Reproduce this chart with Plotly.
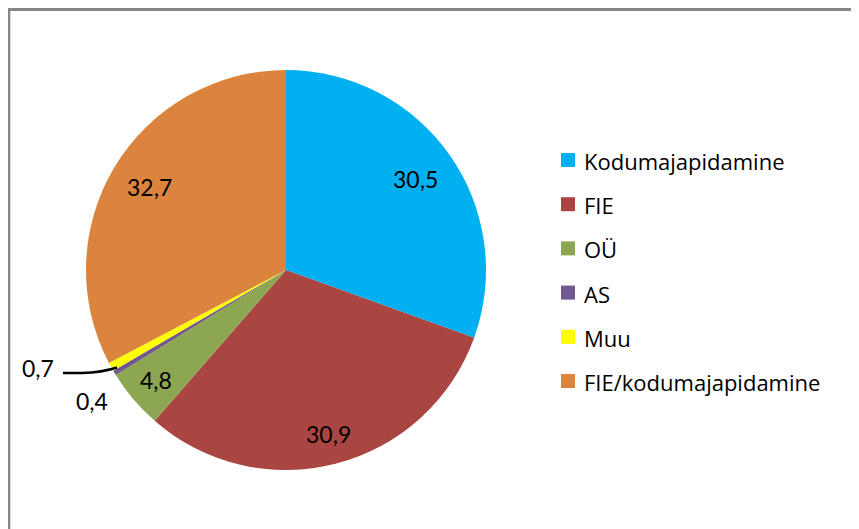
import math
import plotly.graph_objects as go

# ---- data ----
categories = ["Kodumajapidamine", "FIE", "OÜ", "AS", "Muu", "FIE/kodumajapidamine"]
values = [30.5, 30.9, 4.8, 0.4, 0.7, 32.7]
colors = ["#00B0F0", "#A94642", "#8CA651", "#71588F", "#FFFF00", "#DB843D"]

# ---- style / layout constants ----
OFF = 8                            # page body margin in the browser
W, H = 859 - OFF, 529 - OFF
CX, CY, R = 286, 270, 200          # pie centre and radius in window pixels
FONT = "Lato"
FS = 23
LEG_FONT = "Open Sans"
LEG_FS = 22
inside_r = {"Kodumajapidamine": 0.79, "FIE": 0.845, "OÜ": 0.85, "FIE/kodumajapidamine": 0.80}
outside_pos = {"AS": (92, 401), "Muu": (38, 368)}


def px(x):
    return (x - OFF) / W


def py(y):
    return 1 - (y - OFF) / H


def fmt(v):
    return f"{v:.1f}".replace(".", ",")


fig = go.Figure(go.Pie(
    labels=categories,
    values=values,
    sort=False,
    direction="clockwise",
    rotation=0,
    marker=dict(colors=colors, line=dict(width=0)),
    textinfo="none",
    hoverinfo="label+value",
    showlegend=False,
    domain=dict(x=[px(CX - R), px(CX + R)], y=[py(CY + R), py(CY - R)]),
))

annotations = []
total = sum(values)
cum = 0.0
for cat, v in zip(categories, values):
    mid = (cum + v / 2) / total * 2 * math.pi
    cum += v
    if cat in inside_r:
        r = inside_r[cat] * R
        x = CX + r * math.sin(mid)
        y = CY - r * math.cos(mid)
    else:
        x, y = outside_pos[cat]
    annotations.append(dict(x=px(x), y=py(y), xref="paper", yref="paper",
                            text=fmt(v), showarrow=False,
                            font=dict(family=FONT, size=FS, color="#000000"),
                            xanchor="center", yanchor="middle"))

shapes = []
# manual legend
LEG_X, LEG_Y0, LEG_DY, SQ = 561, 160, 44.2, 14
for i, (cat, col) in enumerate(zip(categories, colors)):
    yc = LEG_Y0 + i * LEG_DY
    shapes.append(dict(type="rect", xref="paper", yref="paper",
                       x0=px(LEG_X), x1=px(LEG_X + SQ), y0=py(yc + SQ / 2), y1=py(yc - SQ / 2),
                       fillcolor=col, line=dict(width=0)))
    annotations.append(dict(x=px(582), y=py(yc + 1), xref="paper", yref="paper",
                            text=cat, showarrow=False,
                            font=dict(family=LEG_FONT, size=LEG_FS, color="#000000"),
                            xanchor="left", yanchor="middle"))

# leader line for the 0,7 label
shapes.append(dict(type="path", xref="paper", yref="paper",
                   path=f"M {px(63)} {py(373)} L {px(82)} {py(373)} Q {px(102)} {py(372.5)} {px(117)} {py(367.5)}",
                   line=dict(color="#000000", width=2.5)))

# chart frame (open to the right and bottom, as in the reference)
shapes.append(dict(type="path", xref="paper", yref="paper",
                   path=f"M {px(8.8)} {py(H + 30)} L {px(8.8)} {py(9.5)} L {px(W + 30)} {py(9.5)}",
                   line=dict(color="#868686", width=3)))

fig.update_layout(
    width=W, height=H,
    margin=dict(l=0, r=0, t=0, b=0),
    paper_bgcolor="white",
    plot_bgcolor="white",
    annotations=annotations,
    shapes=shapes,
    showlegend=False,
)

fig.write_html("out.html")
